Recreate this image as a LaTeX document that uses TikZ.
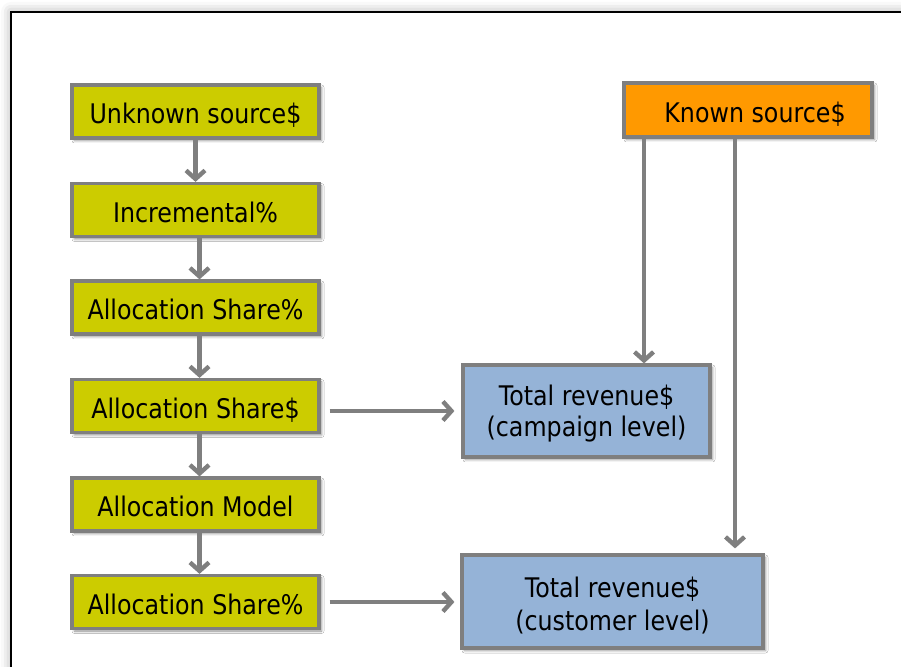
\documentclass[tikz,border=0pt]{standalone}
\usepackage{fontspec}
\setmainfont[FakeStretch=0.88]{DejaVu Sans}
\usetikzlibrary{arrows.meta,shadows.blur}

\definecolor{boxyellow}{HTML}{CCCC00}
\definecolor{boxorange}{HTML}{FF9900}
\definecolor{boxblue}{HTML}{95B3D7}
\definecolor{edgegray}{HTML}{7F7F7F}

\tikzset{
  x=1pt, y=1pt,
  card/.style={draw=edgegray, line width=3.2pt, inner sep=0pt, align=center,
    font=\fontsize{27pt}{31pt}\selectfont, text=black,
    blur shadow={shadow xshift=2.5pt, shadow yshift=-2.5pt,
                 shadow blur radius=2.5pt, shadow opacity=45}},
  oneline/.style={text height=25pt, text depth=0pt},
  srcbox/.style={card, oneline, fill=boxyellow, minimum width=247pt, minimum height=53pt},
  knownbox/.style={card, oneline, fill=boxorange, minimum width=248pt, minimum height=54pt},
  revbox/.style={card, fill=boxblue, minimum height=92pt},
  flow/.style={draw=edgegray, line width=4.4pt,
    -{Straight Barb[length=8.5pt, width=19pt]}}
}

\begin{document}
\begin{tikzpicture}
\useasboundingbox (0,0) rectangle (901,666);

% outer slide frame with its soft halo
\begin{scope}
  \clip (0,0) rectangle (901,666);
  \draw[fill=white, line width=2.4pt,
        blur shadow={shadow xshift=0pt, shadow yshift=0pt,
                     shadow blur radius=10pt, shadow opacity=35}]
        (11,-30) rectangle (940,654);
\end{scope}

% left column
\node[srcbox] (u)  at (195.5,554.5) {Unknown source\$};
\node[srcbox] (i)  at (195.5,456)   {Incremental\%};
\node[srcbox] (s1) at (195.5,358.5) {Allocation Share\%};
\node[srcbox] (s2) at (195.5,260)   {Allocation Share\$};
\node[srcbox] (m)  at (195.5,161.5) {Allocation Model};
\node[srcbox] (s3) at (195.5,64)    {Allocation Share\%};

% right column
\node[knownbox] (k) at (748,556) {\hspace*{14pt}Known source\$};
\node[revbox, minimum width=247pt] (c) at (586.5,255)
  {\rule{0pt}{26pt}Total revenue\$\\ (campaign level)};
\node[revbox, minimum width=301pt, minimum height=93pt] (t) at (612.5,64.5)
  {\rule{0pt}{28pt}Total revenue\$\\[2pt] (customer level)};

% chain of steps
\draw[flow] (u.south) -- (i.north);
\draw[flow] ([xshift=4pt]i.south)  -- ([xshift=4pt]s1.north);
\draw[flow] ([xshift=4pt]s1.south) -- ([xshift=4pt]s2.north);
\draw[flow] ([xshift=4pt]s2.south) -- ([xshift=4pt]m.north);
\draw[flow] ([xshift=4pt]m.south)  -- ([xshift=4pt]s3.north);

% feeds into the revenue boxes
\draw[flow] ([xshift=9pt]s2.east |- c.west) -- ([xshift=-7pt]c.west);
\draw[flow] ([xshift=9pt]s3.east) -- ([xshift=-6pt]t.west |- s3.east);

\draw[flow] (k.south -| 644,0) -- (c.north -| 644,0);
\draw[flow] (k.south -| 735,0) -- ([yshift=5pt]t.north -| 735,0);
\end{tikzpicture}
\end{document}
